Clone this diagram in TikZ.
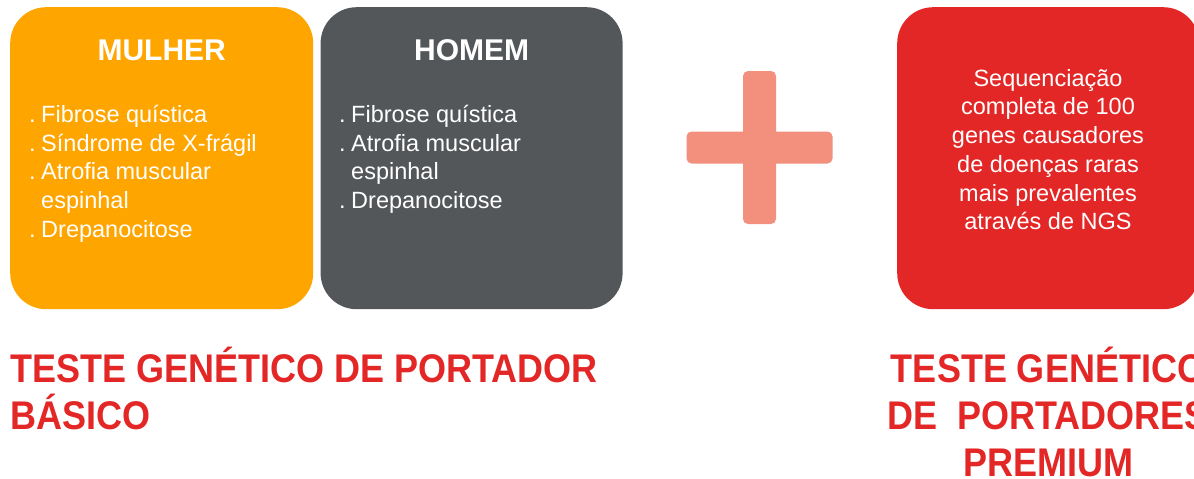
\documentclass[tikz,border=0pt]{standalone}
\usepackage{fontspec}
\setmainfont{Liberation Sans}
\newfontfamily\titulofont[FakeStretch=0.9]{Liberation Sans}
\usetikzlibrary{positioning}
\definecolor{laranja}{HTML}{FFA500}
\definecolor{cinza}{HTML}{54575A}
\definecolor{vermelho}{HTML}{E32726}
\definecolor{salmao}{HTML}{F28F7D}
\newcommand{\ponto}{.\hspace{5.5pt}} % the dot in front of each disease
\tikzset{
x=1pt, y=-1pt, % one unit is one pixel of the page, y grows downwards
caixa/.style={rounded corners=36pt, minimum width=303pt, minimum height=302pt, inner sep=0pt, anchor=north west}, % the three coloured boxes
cabecalho/.style={text=white, font=\bfseries\fontsize{30}{30}\selectfont, anchor=base, inner sep=0pt}, % MULHER and HOMEM
lista/.style={text=white, font=\fontsize{23.5}{28.7}\selectfont, align=left, anchor=north west, inner sep=0pt}, % the lists of diseases
barra/.style={fill=salmao, rounded corners=5pt, inner sep=0pt}, % the two bars of the plus sign
rotulo/.style={text=vermelho, font=\titulofont\bfseries\fontsize{40}{47}\selectfont, inner sep=0pt}, % the red titles below
}
\begin{document}
\begin{tikzpicture}
        \useasboundingbox (0,0) rectangle (1194,479);
        \clip (0,0) rectangle (1194,479);
        \node[caixa, fill=laranja] (mulher) at (10,7) {};
        \node[caixa, fill=cinza, minimum width=302pt, right=7pt of mulher] (homem) {};
        \node[caixa, fill=vermelho, minimum width=302pt] (premium) at (897,7) {};
        \node[cabecalho] (tmulher) at ([yshift=-53pt]mulher.north) {MULHER};
        \node[cabecalho] (thomem) at ([yshift=-53pt]homem.north) {HOMEM};
        \node[lista] (lmulher) at (29,105) {\ponto Fibrose quística\\\ponto Síndrome de X-frágil\\\ponto Atrofia muscular\\\hphantom{\ponto}espinhal\\\ponto Drepanocitose};
        \node[lista] (lhomem) at (339,105) {\ponto Fibrose quística\\\ponto Atrofia muscular\\\hphantom{\ponto}espinhal\\\ponto Drepanocitose};
        \node[lista, align=center, anchor=north] (lpremium) at (1048,69) {Sequenciação\\completa de 100\\genes causadores\\de doenças raras\\mais prevalentes\\através de NGS};
        \node[barra, minimum width=33pt, minimum height=153pt] (vertical) at (759.5,147.5) {};
        \node[barra, minimum width=146pt, minimum height=32pt] (horizontal) at (vertical) {};
        \node[rotulo, anchor=base west] (basico) at (10,382) {TESTE GENÉTICO DE PORTADOR};
        \node[rotulo, anchor=base west] (basico2) at (10,429) {BÁSICO};
        \node[rotulo, anchor=base] (pre1) at (1048,382) {TESTE GENÉTICO};
        \node[rotulo, anchor=base] (pre2) at (1048,429) {DE\ \ PORTADORES};
        \node[rotulo, anchor=base] (pre3) at (1048,476) {PREMIUM};
\end{tikzpicture}
\end{document}
